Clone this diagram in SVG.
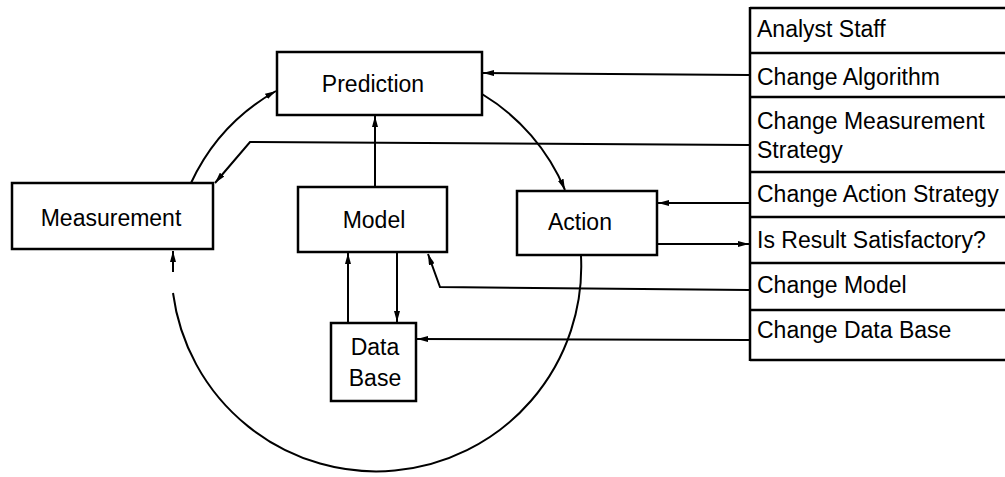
<svg xmlns="http://www.w3.org/2000/svg" width="1005" height="477" viewBox="0 0 1005 477">
  <style>
    .box { fill: #fff; stroke: #000; stroke-width: 2.5; }
    .lbl { font-family: "Liberation Sans", Arial, sans-serif; font-size: 23px; fill: #000; }
    .mid { text-anchor: middle; }
    .wire { fill: none; stroke: #000; stroke-width: 2; }
    .rule { stroke: #000; stroke-width: 2.5; fill: none; }
  </style>
  <defs>
    <marker id="arrow" viewBox="0 0 11 6" refX="11" refY="3" markerWidth="11" markerHeight="6" markerUnits="userSpaceOnUse" orient="auto">
      <path d="M0,0 L11,3 L0,6 Z" fill="#000"/>
    </marker>
  </defs>

  <rect width="1005" height="477" fill="#fff"/>

  <!-- connectors -->
  <g id="connectors">
    <!-- feedback circle -->
    <path class="wire" d="M191,183 A205,205 0 0 1 276,91" marker-end="url(#arrow)"/>
    <path class="wire" d="M482,94 A205,205 0 0 1 565,190" marker-end="url(#arrow)"/>
    <path class="wire" d="M581,256 A205,205 0 0 1 173,293"/>
    <path class="wire" d="M173,272 L173,251" marker-end="url(#arrow)"/>
    <!-- model / data base links -->
    <path class="wire" d="M375,187 L375,116" marker-end="url(#arrow)"/>
    <path class="wire" d="M348,323 L348,253" marker-end="url(#arrow)"/>
    <path class="wire" d="M397,252 L397,322" marker-end="url(#arrow)"/>
    <!-- analyst staff controls -->
    <path class="wire" d="M749,75 L483,73" marker-end="url(#arrow)"/>
    <path class="wire" d="M749,145 L250,142 L215,183" marker-end="url(#arrow)"/>
    <path class="wire" d="M749,203 L658,203" marker-end="url(#arrow)"/>
    <path class="wire" d="M657,244 L749,244" marker-end="url(#arrow)"/>
    <path class="wire" d="M749,290 L440,287 L428,254" marker-end="url(#arrow)"/>
    <path class="wire" d="M749,340 L417,339" marker-end="url(#arrow)"/>
  </g>

  <g id="prediction">
    <rect class="box" x="277" y="52" width="205" height="63"/>
    <text class="lbl mid" x="373" y="92">Prediction</text>
  </g>

  <g id="measurement">
    <rect class="box" x="12" y="183" width="201" height="66"/>
    <text class="lbl mid" x="111" y="226">Measurement</text>
  </g>

  <g id="model">
    <rect class="box" x="298" y="187" width="149" height="65"/>
    <text class="lbl mid" x="374" y="228">Model</text>
  </g>

  <g id="action">
    <rect class="box" x="517" y="191" width="140" height="64"/>
    <text class="lbl mid" x="580" y="230">Action</text>
  </g>

  <g id="data-base">
    <rect class="box" x="331" y="323" width="85" height="78"/>
    <text class="lbl mid" x="375" y="355">Data</text>
    <text class="lbl mid" x="375" y="386">Base</text>
  </g>

  <!-- analyst staff table -->
  <g id="analyst-staff">
    <path class="rule" d="M750,7 L750,361"/>
    <path class="rule" d="M750,8 H1005 M750,53 H1005 M750,97 H1005 M750,172 H1005 M750,217 H1005 M750,263 H1005 M750,310 H1005 M750,360 H1005"/>
    <text class="lbl" x="757" y="37">Analyst Staff</text>
    <text class="lbl" x="757" y="85">Change Algorithm</text>
    <text class="lbl" x="757" y="129">Change Measurement</text>
    <text class="lbl" x="757" y="158">Strategy</text>
    <text class="lbl" x="757" y="202">Change Action Strategy</text>
    <text class="lbl" x="757" y="248">Is Result Satisfactory?</text>
    <text class="lbl" x="757" y="293">Change Model</text>
    <text class="lbl" x="757" y="338">Change Data Base</text>
  </g>
</svg>
